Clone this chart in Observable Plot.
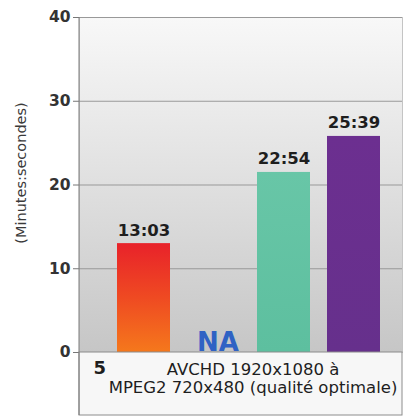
<!DOCTYPE html>
<html><head><meta charset="utf-8">
<script src="https://cdn.jsdelivr.net/npm/d3@7"></script>
<script src="https://cdn.jsdelivr.net/npm/@observablehq/plot@0.6"></script>
<style>
html,body{margin:0;padding:0;background:#fff;}
#chart svg{display:block;}
</style>
</head><body><div id="chart"></div>
<script>
// ---- data ----
const categories = ["Logiciel 1", "Logiciel 2", "Logiciel 3", "Logiciel 4"];
const values = [13.0, null, 21.5, 25.8];          // bar heights (minutes)
const labels = ["13:03", "NA", "22:54", "25:39"];  // value labels
const yTicks = [0, 10, 20, 30, 40];
const yTitle = "(Minutes:secondes)";
const boxNumber = "5";
const boxText = "AVCHD 1920x1080 à\nMPEG2 720x480 (qualité optimale)";

const data = categories.map((c, i) => ({cat: c, value: values[i], label: labels[i]}));
const present = data.filter(d => d.value != null);
const missing = data.filter(d => d.value == null);

const W = 404, H = 418, mL = 79, mR = 2, mT = 17, mB = 66;
const FONT = "'DejaVu Sans', sans-serif";

const plot = Plot.plot({
  width: W, height: H,
  marginTop: mT, marginBottom: mB, marginLeft: mL, marginRight: mR,
  style: {background: "transparent", fontFamily: FONT, overflow: "visible"},
  x: {type: "band", domain: categories, range: [107.7, 390.5], paddingInner: 0.236, paddingOuter: 0.118, axis: null},
  y: {domain: [0, 40], ticks: yTicks, axis: null},
  color: {type: "ordinal", domain: categories, range: ["url(#gRed)", "none", "url(#gTeal)", "url(#gPurple)"]},
  marks: [
    Plot.frame({fill: "url(#gBg)", stroke: "#c4c4c4"}),
    Plot.gridY(yTicks.filter(t => t > 0), {stroke: "#999", strokeOpacity: 1, strokeWidth: 1}),
    Plot.barY(present, {x: "cat", y: "value", fill: "cat"}),
    Plot.axisY({ticks: yTicks, tickSize: 6, tickPadding: 3, label: null, fontSize: 15.5, fontWeight: "bold", fill: "#333", stroke: "#777"}),
    Plot.text(present, {x: "cat", y: "value", text: "label", lineAnchor: "bottom", dy: -8, fontSize: 16.5, fontWeight: "bold", fill: "#1e1e1e"}),
    Plot.text(missing, {x: "cat", y: 0, text: "label", lineAnchor: "bottom", dx: 4, dy: -2, fontSize: 26, fontWeight: "bold", fill: "#2f62c4"}),
    Plot.text([yTitle], {frameAnchor: "left", textAnchor: "middle", dx: -58, dy: -12, rotate: -90, text: d => d, fontSize: 14.5, fill: "#3a3a3a"}),
    Plot.text([boxNumber], {frameAnchor: "bottom-left", dx: 14, dy: 16, lineAnchor: "middle", textAnchor: "start", text: d => d, fontSize: 18, fontWeight: "bold", fill: "#1e1e1e"}),
    Plot.text([boxText], {frameAnchor: "bottom", dx: 12, dy: 26, lineAnchor: "middle", textAnchor: "middle", lineHeight: 1.09, text: d => d, fontSize: 16.5, fill: "#1e1e1e"})
  ]
});

// gradients and bottom box
const svg = d3.select(plot);
const defs = svg.insert("defs", ":first-child");
function grad(id, stops) {
  const g = defs.append("linearGradient").attr("id", id).attr("x1", 0).attr("y1", 0).attr("x2", 0).attr("y2", 1);
  stops.forEach(([o, c]) => g.append("stop").attr("offset", o).attr("stop-color", c));
}
grad("gBg", [[0, "#f8f8f8"], [0.45, "#e2e2e2"], [1, "#c6c6c6"]]);
grad("gRed", [[0, "#e8222a"], [0.5, "#ef4a22"], [1, "#f5781c"]]);
grad("gTeal", [[0, "#68c6a7"], [1, "#5dbf9f"]]);
grad("gPurple", [[0, "#6c2f90"], [1, "#66308c"]]);

const ys = plot.scale("y");
const y0 = ys.apply(0), yTop = ys.apply(40);
const boxBottom = H - 3;
svg.insert("rect", "g[aria-label='text']")
  .attr("x", mL).attr("y", y0).attr("width", W - mR - mL).attr("height", boxBottom - y0)
  .attr("fill", "#f7f7f7").attr("stroke", "#8c8c8c");
svg.append("line")
  .attr("x1", mL).attr("x2", mL).attr("y1", yTop).attr("y2", boxBottom)
  .attr("stroke", "#7a7a7a");

document.getElementById("chart").appendChild(plot);
</script>
</body></html>
